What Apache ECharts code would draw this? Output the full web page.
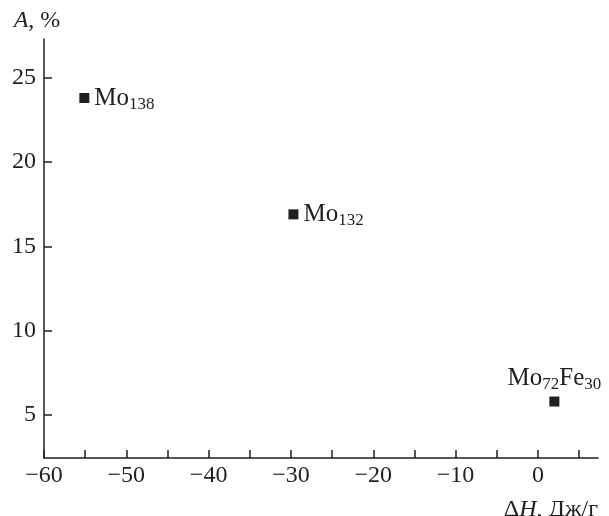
<!DOCTYPE html>
<html>
<head>
<meta charset="utf-8">
<script src="https://cdn.jsdelivr.net/npm/echarts@6/dist/echarts.min.js"></script>
<style>
  html, body { margin: 0; padding: 0; background: #fff; }
  #chart { width: 609px; height: 516px; }
</style>
</head>
<body>
<div id="chart"></div>
<script>
// точки: ΔH (Дж/г) и A (%)
const dH = [-55.1, -29.7, 2.0];
const aPct = [23.8, 16.9, 5.8];
const alloyBase = ['Mo', 'Mo', 'Mo'];
const alloySub = ['138', '132', '72'];
const xTicks = [-60, -55, -50, -45, -40, -35, -30, -25, -20, -15, -10, -5, 0, 5];
const xLabels = [-60, -50, -40, -30, -20, -10, 0];
const yTicks = [5, 10, 15, 20, 25];

const ink = '#231f20';
const serif = '"Liberation Serif", serif';

const chart = echarts.init(document.getElementById('chart'));

const rich = {
  n: { fontSize: 25, fontFamily: serif, color: ink, lineHeight: 30 },
  s: { fontSize: 17, fontFamily: serif, color: ink, lineHeight: 30, verticalAlign: 'bottom' }
};

const points = dH.map((x, i) => {
  const last = i === dH.length - 1;
  return {
    value: [x, aPct[i]],
    label: last
      ? { position: 'top', distance: 3, formatter: '{n|Mo}{s|72}{n|Fe}{s|30}' }
      : { position: 'right', distance: 5, formatter: '{n|' + alloyBase[i] + '}{s|' + alloySub[i] + '}' }
  };
});

const fmtMinus = v => (v < 0 ? '\u2212' + Math.abs(v) : String(v));

const option = {
  backgroundColor: '#ffffff',
  animation: false,
  grid: { left: 44, right: 11, top: 39, bottom: 58, outerBoundsMode: 'none' },
  xAxis: {
    type: 'value',
    min: -60,
    max: 7.3,
    name: '{u|Δ}{i|H}{u|, Дж/г}',
    nameLocation: 'end',
    nameGap: 0,
    nameTextStyle: {
      align: 'right', verticalAlign: 'top', padding: [40, 0, 0, 0],
      fontSize: 24, fontFamily: serif, color: ink,
      rich: {
        u: { fontSize: 24, fontFamily: serif, color: ink },
        i: { fontSize: 24, fontFamily: serif, fontStyle: 'italic', color: ink }
      }
    },
    axisLine: { onZero: false, lineStyle: { color: ink, width: 1.5 } },
    axisTick: { inside: true, length: 8, customValues: xTicks, lineStyle: { color: ink, width: 1.5 } },
    axisLabel: {
      customValues: xLabels, margin: 6,
      fontSize: 24, fontFamily: serif, color: ink,
      formatter: fmtMinus
    },
    splitLine: { show: false }
  },
  yAxis: {
    type: 'value',
    min: 2.45,
    max: 27.3,
    name: '{i|A}{u|, %}',
    nameLocation: 'end',
    nameGap: 6,
    nameTextStyle: {
      fontSize: 24, fontFamily: serif, color: ink,
      padding: [0, 14, 0, 0],
      rich: {
        u: { fontSize: 24, fontFamily: serif, color: ink },
        i: { fontSize: 24, fontFamily: serif, fontStyle: 'italic', color: ink }
      }
    },
    axisLine: { show: true, onZero: false, lineStyle: { color: ink, width: 1.5 } },
    axisTick: { show: true, inside: true, length: 8, customValues: yTicks, lineStyle: { color: ink, width: 1.5 } },
    axisLabel: {
      customValues: yTicks, margin: 8,
      fontSize: 24, fontFamily: serif, color: ink
    },
    splitLine: { show: false }
  },
  series: [{
    type: 'scatter',
    symbol: 'rect',
    symbolSize: 10,
    itemStyle: { color: ink, opacity: 1 },
    label: { show: true, rich: rich, color: ink },
    data: points
  }]
};

chart.setOption(option);
</script>
</body>
</html>
